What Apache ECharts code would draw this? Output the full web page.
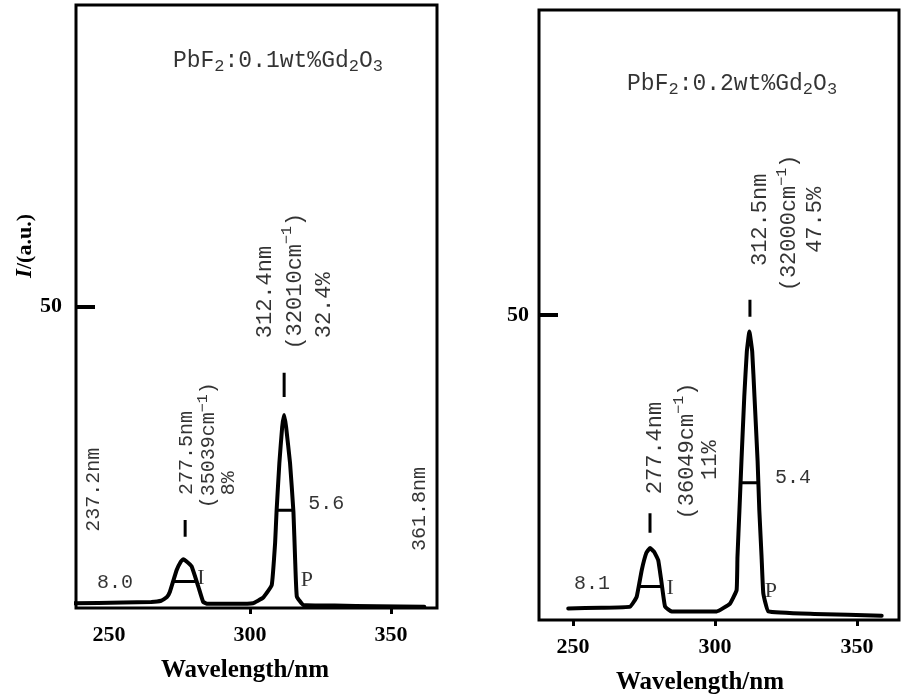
<!DOCTYPE html>
<html><head><meta charset="utf-8">
<script src="https://cdn.jsdelivr.net/npm/echarts@6/dist/echarts.min.js"></script>
<style>html,body{margin:0;padding:0;background:#fff}#c{width:901px;height:699px}</style>
</head><body><div id="c"></div>
<script>
// ---------- Panel A : PbF2:0.1wt%Gd2O3 ----------
const waveA = [237.2, 255, 265, 268.5, 270.5, 271.6, 274.0, 275.5, 276.3, 277.3, 279.3, 281.7, 283.4, 285, 295, 301, 304.6, 307.7, 308.9, 309.4, 310.4, 311.4, 312.1, 312.8, 314.2, 315.4, 316.0, 316.6, 318.9, 330, 345, 361.8];
const intA  = [0.8, 0.9, 1.0, 1.2, 1.8, 2.7, 6.3, 7.7, 8.1, 7.8, 6.9, 3.5, 1.0, 0.7, 0.7, 0.8, 1.7, 3.8, 10.8, 15.9, 24.0, 30.0, 32.0, 30.0, 24.0, 15.9, 8.0, 1.9, 0.5, 0.4, 0.3, 0.2];
// half-maximum bars: [start nm, end nm, level]
const fwhmA = [[272.8, 281.1, 4.4], [308.9, 315.1, 16.2]];
// marker dashes: [nm, from, to]
const dashA = [[277.0, 11.8, 14.6], [312.1, 35.0, 39.0]];
// ---------- Panel B : PbF2:0.2wt%Gd2O3 ----------
const waveB = [248.3, 260, 270.1, 272.4, 274.2, 275.8, 277.1, 278.5, 280.0, 281.2, 282.4, 284.7, 300.6, 305.3, 307.6, 307.9, 308.6, 309.3, 310.3, 311.2, 312.1, 313.1, 313.9, 315.0, 315.6, 316.4, 317.0, 318.8, 335, 358.7];
const intB  = [1.9, 2.0, 2.2, 3.8, 8.2, 11.0, 11.8, 11.2, 9.8, 6.0, 2.2, 1.4, 1.4, 2.7, 4.9, 10.3, 18.0, 26.0, 36.6, 44.0, 47.3, 44.0, 36.6, 26.0, 18.0, 10.3, 4.4, 1.4, 1.0, 0.7];
const fwhmB = [[273.3, 281.6, 5.5], [309.0, 315.3, 22.5]];
const dashB = [[277.1, 14.3, 17.5], [312.3, 49.7, 52.5]];
// ---------- ticks ----------
const xTicksA = [300, 350];
const xTicksB = [250, 300, 350];
const xTickLabels = [250, 300, 350];
const yTickLabels = [50];
// ---------- annotations: [text, nm, intensity, rotated] ----------
const notesA = [
  ['{t|PbF}{s|2}{t|:0.1wt%Gd}{s|2}{t|O}{s|3}', 309.9, 90.5, false],
  ['{a|277.5nm}', 277.0, 25.7, true],
  ['{a|(35039cm}{p|−1}{a|)}', 284.8, 27.0, true],
  ['{a|8%}', 291.8, 20.7, true],
  ['{b|312.4nm}', 304.6, 52.4, true],
  ['{b|(32010cm}{p|−1}{b|)}', 315.2, 54.2, true],
  ['{b|32.4%}', 325.5, 50.2, true],
  ['{a|237.2nm}', 244.0, 19.6, true],
  ['{a|361.8nm}', 359.6, 16.4, true],
  ['{a|8.0}', 252.1, 4.5, false],
  ['{r|I}', 282.6, 5.0, false],
  ['{r|P}', 320.2, 4.6, false],
  ['{a|5.6}', 327.0, 17.6, false]
];
const notesB = [
  ['{t|PbF}{s|2}{t|:0.2wt%Gd}{s|2}{t|O}{s|3}', 306.0, 87.7, false],
  ['{b|312.5nm}', 315.1, 65.6, true],
  ['{b|(32000cm}{p|−1}{b|)}', 325.4, 65.1, true],
  ['{b|47.5%}', 334.5, 65.6, true],
  ['{b|277.4nm}', 278.2, 28.2, true],
  ['{b|(36049cm}{p|−1}{b|)}', 289.4, 27.7, true],
  ['{b|11%}', 297.5, 26.2, true],
  ['{a|8.1}', 256.7, 6.2, false],
  ['{r|I}', 284.2, 5.2, false],
  ['{r|P}', 319.7, 4.8, false],
  ['{a|5.4}', 327.5, 23.6, false]
];

const MONO = '"Liberation Mono", "DejaVu Sans Mono", monospace';
const SERIF = '"Liberation Serif", "DejaVu Serif", serif';
const rich = {
  t: {fontFamily: MONO, fontSize: 23, lineHeight: 26, verticalAlign: 'top', color: '#000'},
  s: {fontFamily: MONO, fontSize: 17, lineHeight: 12, verticalAlign: 'bottom', color: '#000'},
  a: {fontFamily: MONO, fontSize: 20, lineHeight: 24, verticalAlign: 'bottom', color: '#000'},
  b: {fontFamily: MONO, fontSize: 22, lineHeight: 26, verticalAlign: 'bottom', color: '#000'},
  p: {fontFamily: MONO, fontSize: 15, lineHeight: 12, verticalAlign: 'top', color: '#000'},
  r: {fontFamily: SERIF, fontSize: 22, lineHeight: 24, color: '#000'}
};

function zip(xs, ys) { return xs.map((x, i) => [x, ys[i]]); }

function panelSeries(idx, wave, inten, fwhm, dash, notes) {
  const s = [];
  s.push({
    type: 'line', xAxisIndex: idx, yAxisIndex: idx, data: zip(wave, inten),
    showSymbol: false, smooth: 0.1,
    lineStyle: {color: '#000', width: 4, join: 'round', cap: 'round'}, silent: true
  });
  fwhm.forEach(f => s.push({
    type: 'line', xAxisIndex: idx, yAxisIndex: idx, data: [[f[0], f[2]], [f[1], f[2]]],
    showSymbol: false, lineStyle: {color: '#000', width: 3}, silent: true
  }));
  dash.forEach(d => s.push({
    type: 'line', xAxisIndex: idx, yAxisIndex: idx, data: [[d[0], d[1]], [d[0], d[2]]],
    showSymbol: false, lineStyle: {color: '#000', width: 3}, silent: true
  }));
  s.push({
    type: 'scatter', xAxisIndex: idx, yAxisIndex: idx, symbolSize: 0, silent: true,
    data: notes.map(n => ({
      value: [n[1], n[2]],
      label: {show: true, position: 'inside', rotate: n[3] ? 90 : 0,
              formatter: n[0], rich: rich, align: 'center', verticalAlign: 'middle'}
    }))
  });
  return s;
}

function xAxis(idx, min, max, ticks) {
  return {
    type: 'value', gridIndex: idx, min: min, max: max,
    axisLine: {show: false}, splitLine: {show: false},
    axisTick: {show: true, customValues: ticks, length: 6, lineStyle: {color: '#000', width: 3}},
    axisLabel: {show: true, customValues: xTickLabels, margin: 16,
                fontFamily: SERIF, fontWeight: 'bold', fontSize: 22, color: '#000'}
  };
}
function yAxis(idx, margin) {
  return {
    type: 'value', gridIndex: idx, min: 0, max: 100,
    axisLine: {show: false}, splitLine: {show: false},
    axisTick: {show: true, inside: true, customValues: yTickLabels, length: 19, lineStyle: {color: '#000', width: 4}},
    axisLabel: {show: true, customValues: yTickLabels, margin: margin,
                fontFamily: SERIF, fontWeight: 'bold', fontSize: 22, color: '#000'}
  };
}

const chart = echarts.init(document.getElementById('c'), null, {renderer: 'canvas'});
chart.setOption({
  animation: false,
  backgroundColor: '#fff',
  grid: [
    {left: 76, top: 5, width: 361, height: 603, show: true, borderColor: '#000', borderWidth: 3, backgroundColor: 'transparent'},
    {left: 539, top: 10, width: 360, height: 610, show: true, borderColor: '#000', borderWidth: 3, backgroundColor: 'transparent'}
  ],
  xAxis: [xAxis(0, 238.3, 366.3, xTicksA), xAxis(1, 238.0, 364.8, xTicksB)],
  yAxis: [yAxis(0, 14), yAxis(1, 10)],
  graphic: [
    {type: 'text', x: 25, y: 246, rotation: Math.PI / 2,
     style: {text: '{i|I}{n|/(a.u.)}', align: 'center', verticalAlign: 'middle',
             rich: {i: {fontFamily: SERIF, fontWeight: 'bold', fontStyle: 'italic', fontSize: 23, color: '#000'},
                    n: {fontFamily: SERIF, fontWeight: 'bold', fontSize: 22, color: '#000'}}}},
    {type: 'text', x: 245, y: 671,
     style: {text: 'Wavelength/nm', align: 'center', verticalAlign: 'middle',
             fontFamily: SERIF, fontWeight: 'bold', fontSize: 25, fill: '#000'}},
    {type: 'text', x: 700, y: 683,
     style: {text: 'Wavelength/nm', align: 'center', verticalAlign: 'middle',
             fontFamily: SERIF, fontWeight: 'bold', fontSize: 25, fill: '#000'}}
  ],
  series: [].concat(
    panelSeries(0, waveA, intA, fwhmA, dashA, notesA),
    panelSeries(1, waveB, intB, fwhmB, dashB, notesB)
  )
});
</script>
</body></html>
